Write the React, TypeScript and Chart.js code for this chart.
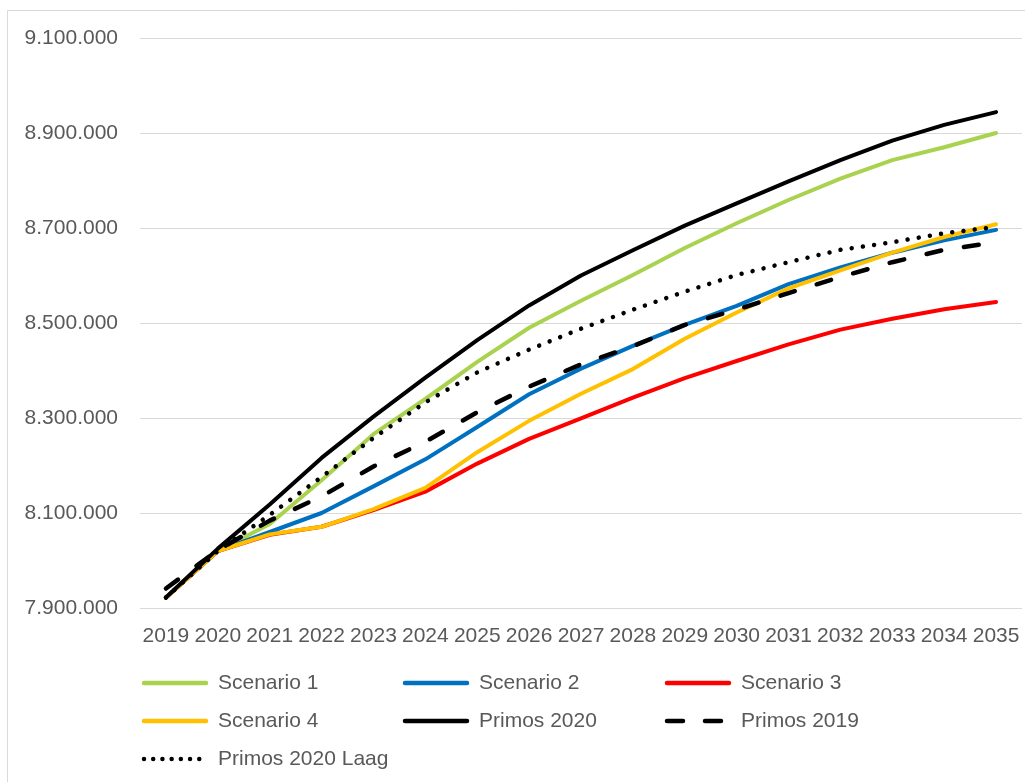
import React, { useEffect, useRef } from "react";
import { Chart, registerables } from "chart.js";

Chart.register(...registerables);

const years = ["2019","2020","2021","2022","2023","2024","2025","2026","2027","2028","2029","2030","2031","2032","2033","2034","2035"];

const scenario1 = [7922000, 8020000, 8077000, 8169000, 8266000, 8340000, 8418000, 8490000, 8547000, 8601000, 8658000, 8710000, 8759000, 8804000, 8843000, 8870000, 8900000];
const scenario2 = [7922000, 8020000, 8060000, 8100000, 8156000, 8213000, 8281000, 8350000, 8404000, 8452000, 8496000, 8536000, 8582000, 8617000, 8648000, 8674000, 8696000];
const scenario3 = [7922000, 8020000, 8054000, 8071000, 8106000, 8145000, 8204000, 8256000, 8299000, 8343000, 8384000, 8420000, 8455000, 8486000, 8509000, 8529000, 8544000];
const scenario4 = [7922000, 8020000, 8055000, 8071000, 8108000, 8153000, 8228000, 8294000, 8351000, 8403000, 8467000, 8522000, 8573000, 8611000, 8648000, 8681000, 8708000];
const primos2020 = [7922000, 8025000, 8118000, 8216000, 8303000, 8385000, 8464000, 8537000, 8600000, 8653000, 8705000, 8752000, 8798000, 8843000, 8884000, 8917000, 8944000];
const primos2019 = [7941000, 8022000, 8084000, 8135000, 8198000, 8250000, 8312000, 8366000, 8413000, 8451000, 8496000, 8528000, 8563000, 8597000, 8628000, 8654000, 8670000];
const primos2020Laag = [7922000, 8020000, 8096000, 8176000, 8258000, 8333000, 8396000, 8444000, 8488000, 8528000, 8566000, 8601000, 8628000, 8654000, 8670000, 8689000, 8702000];

const seriesNames = ["Scenario 1", "Scenario 2", "Scenario 3", "Scenario 4", "Primos 2020", "Primos 2019", "Primos 2020 Laag"];
const seriesColors = ["#A9D24F", "#0070C0", "#FF0000", "#FFC000", "#000000", "#000000", "#000000"];

const yMin = 7900000;
const yMax = 9100000;
const yStep = 200000;

const FONT = "'Liberation Sans', Arial, sans-serif";
const TEXT_COLOR = "#595959";

function fmt(v: number): string {
  return String(Math.round(v)).replace(/\B(?=(\d{3})+(?!\d))/g, ".");
}

const legendPlugin = {
  id: "customLegend",
  afterDraw(chart: any) {
    const ctx = chart.ctx as CanvasRenderingContext2D;
    ctx.save();
    // outer frame (left & top visible)
    ctx.strokeStyle = "#D9D9D9";
    ctx.lineWidth = 1;
    ctx.setLineDash([]);
    ctx.beginPath();
    ctx.moveTo(7.5, 800);
    ctx.lineTo(7.5, 10.5);
    ctx.lineTo(1030, 10.5);
    ctx.stroke();

    const colX = [142, 403, 665];
    const rowY = [683, 721, 759];
    const dsList = chart.data.datasets;
    dsList.forEach((ds: any, i: number) => {
      const col = i % 3;
      const row = Math.floor(i / 3);
      const x0 = colX[col];
      const y = rowY[row];
      ctx.strokeStyle = ds.borderColor;
      ctx.lineWidth = 4.5;
      ctx.lineCap = "round";
      if (ds.legendDash) {
        ctx.setLineDash(ds.legendDash);
      } else {
        ctx.setLineDash([]);
      }
      ctx.beginPath();
      ctx.moveTo(x0 + 2, y);
      ctx.lineTo(x0 + 64, y);
      ctx.stroke();
      ctx.setLineDash([]);
      ctx.fillStyle = TEXT_COLOR;
      ctx.font = `21px ${FONT}`;
      ctx.textBaseline = "middle";
      ctx.textAlign = "left";
      ctx.fillText(ds.label, x0 + 76, y);
    });
    ctx.restore();
  },
};

export default function App() {
  const canvasRef = useRef<HTMLCanvasElement | null>(null);

  useEffect(() => {
    document.body.style.margin = "0";
    if (!canvasRef.current) return;
    const allData = [scenario1, scenario2, scenario3, scenario4, primos2020, primos2019, primos2020Laag];
    const datasets = allData.map((d, i) => {
      const base: any = {
        label: seriesNames[i],
        data: d,
        borderColor: seriesColors[i],
        backgroundColor: seriesColors[i],
        borderWidth: 4,
        pointRadius: 0,
        pointHoverRadius: 0,
        tension: 0,
        fill: false,
        order: 10 - i,
        borderCapStyle: "round",
        borderJoinStyle: "round",
      };
      if (seriesNames[i] === "Primos 2019") {
        base.borderDash = [15, 23];
        base.legendDash = [16, 22];
        base.borderWidth = 4.5;
      }
      if (seriesNames[i] === "Primos 2020 Laag") {
        base.borderDash = [0.01, 11.3];
        base.legendDash = [0.01, 9.2];
        base.borderWidth = 4.5;
      }
      return base;
    });

    const chart = new Chart(canvasRef.current, {
      type: "line",
      data: { labels: years, datasets },
      plugins: [legendPlugin],
      options: {
        animation: false,
        responsive: true,
        maintainAspectRatio: false,
        layout: { padding: { left: 0, right: 3, top: 38, bottom: 134 } },
        plugins: {
          legend: { display: false },
          tooltip: { enabled: false },
          title: { display: false },
        },
        scales: {
          x: {
            offset: true,
            grid: { display: false, drawTicks: false },
            border: { display: false },
            ticks: {
              color: TEXT_COLOR,
              font: { family: FONT, size: 21 },
              padding: 16,
              maxRotation: 0,
              autoSkip: false,
            },
            afterFit: (scale: any) => {
              scale.height = 40;
              scale.paddingLeft = 0;
              scale.paddingRight = 0;
            },
          },
          y: {
            min: yMin,
            max: yMax,
            grid: { color: "#D9D9D9", lineWidth: 1, drawTicks: false },
            border: { display: false },
            ticks: {
              stepSize: yStep,
              color: TEXT_COLOR,
              font: { family: FONT, size: 21 },
              padding: 22,
              callback: (v: any) => fmt(Number(v)),
            },
            afterFit: (scale: any) => {
              scale.width = 140;
            },
          },
        },
      },
    });
    return () => chart.destroy();
  }, []);

  return (
    <div style={{ position: "fixed", left: 0, top: 0, width: 1025, height: 782, background: "#fff" }}>
      <canvas ref={canvasRef} />
    </div>
  );
}
